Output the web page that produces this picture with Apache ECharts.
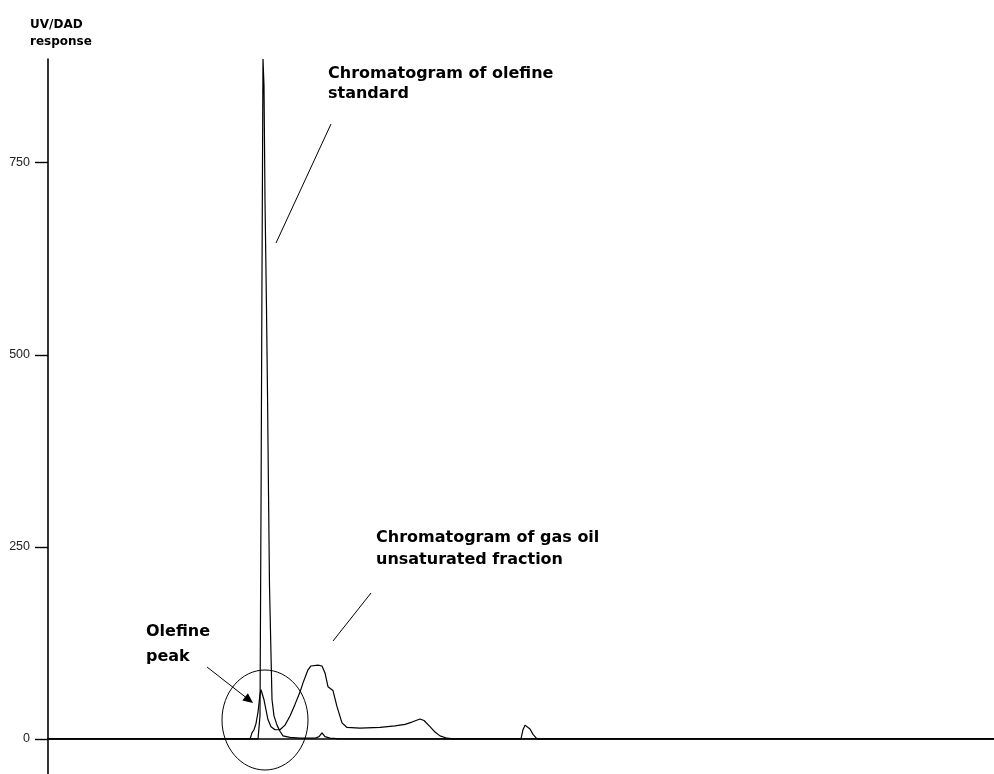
<!DOCTYPE html>
<html>
<head>
<meta charset="utf-8">
<title>UV/DAD chromatograms</title>
<script src="https://cdn.jsdelivr.net/npm/echarts@6/dist/echarts.min.js"></script>
<style>
  html, body { margin: 0; padding: 0; background: #ffffff; }
  #chart { width: 994px; height: 774px; }
</style>
</head>
<body>
<div id="chart"></div>
<script>
// Retention time (min) and UV/DAD response of the olefine standard
var standardTime = [0, 6.660, 6.723, 6.755, 6.786, 6.818, 6.850, 6.882, 6.929, 6.961, 6.993, 7.024, 7.072, 7.104, 7.167, 7.262, 7.357, 7.452, 7.674, 7.991, 8.467, 8.594, 8.689, 8.784, 8.943, 9.260, 30];
var standardResponse = [0, 0, 30, 300, 600, 885, 850, 700, 560, 450, 320, 200, 110, 51, 30, 18, 10, 4, 2, 1, 1, 3, 8, 3, 1, 0, 0];

// Retention time (min) and UV/DAD response of the gas oil unsaturated fraction
var gasOilTime = [0, 6.406, 6.469, 6.533, 6.596, 6.660, 6.723, 6.755, 6.786, 6.850, 6.913, 6.977, 7.072, 7.199, 7.357,
  7.516, 7.674, 7.833, 7.991, 8.087, 8.245, 8.340, 8.562, 8.689, 8.784, 8.879, 9.038, 9.165, 9.324, 9.482, 9.894,
  10.529, 11.004, 11.322, 11.543, 11.797, 11.924, 12.114, 12.273, 12.431, 12.653, 12.844,
  15.000, 15.063, 15.127, 15.190, 15.285, 15.381, 15.507, 30];
var gasOilResponse = [0, 0, 8, 12, 20, 35, 58, 64, 62, 51, 38, 25, 16, 12, 12,
  18, 30, 45, 61, 73, 90, 95, 96, 95, 86, 68, 63, 42, 21, 15, 14,
  15, 17, 19, 22, 26, 24, 16, 9, 4, 1, 0,
  0, 12, 18, 18, 13, 6, 0, 0];

// Labelled ticks on the response axis
var responseTicks = [0, 250, 500, 750];

function pairs(xs, ys) {
  return xs.map(function (x, i) { return [x, ys[i]]; });
}

var chart = echarts.init(document.getElementById('chart'), null, { renderer: 'canvas' });

var lineStyle = { color: '#000000', width: 1.2 };
var annotationFont = 'bold 16px "DejaVu Sans"';

chart.setOption({
  animation: false,
  backgroundColor: '#ffffff',
  grid: { left: 48, right: 0, top: 59, bottom: 0, outerBoundsMode: 'none' },
  xAxis: {
    type: 'value',
    min: 0,
    max: 30,
    axisLine: { show: true, onZero: true, lineStyle: { color: '#000000', width: 1.5 } },
    axisTick: { show: false },
    axisLabel: { show: false },
    splitLine: { show: false }
  },
  yAxis: {
    type: 'value',
    min: -45.6,
    max: 885,
    axisLine: { show: true, lineStyle: { color: '#000000', width: 1.6 } },
    axisTick: {
      show: true,
      inside: false,
      length: 13,
      customValues: responseTicks,
      lineStyle: { color: '#000000', width: 1.4 }
    },
    axisLabel: {
      show: true,
      margin: 18,
      customValues: responseTicks,
      color: '#222222',
      fontFamily: '"Liberation Sans", Arial, sans-serif',
      fontSize: 12.5
    },
    splitLine: { show: false }
  },
  series: [
    {
      name: 'Olefine standard',
      type: 'line',
      data: pairs(standardTime, standardResponse),
      showSymbol: false,
      lineStyle: lineStyle,
      z: 3
    },
    {
      name: 'Gas oil unsaturated fraction',
      type: 'line',
      data: pairs(gasOilTime, gasOilResponse),
      showSymbol: false,
      lineStyle: lineStyle,
      z: 3
    }
  ],
  graphic: [
    {
      type: 'text', left: 30, top: 16,
      style: { text: 'UV/DAD\nresponse', font: 'bold 12px "DejaVu Sans"', lineHeight: 17, fill: '#000000' }
    },
    {
      type: 'text', left: 328, top: 64,
      style: { text: 'Chromatogram of olefine\nstandard', font: annotationFont, lineHeight: 20, fill: '#000000' }
    },
    {
      type: 'line',
      shape: { x1: 331, y1: 124, x2: 276, y2: 243 },
      style: { stroke: '#000000', lineWidth: 1 }
    },
    {
      type: 'text', left: 376, top: 527,
      style: { text: 'Chromatogram of gas oil\nunsaturated fraction', font: annotationFont, lineHeight: 22, fill: '#000000' }
    },
    {
      type: 'line',
      shape: { x1: 371, y1: 593, x2: 333, y2: 641 },
      style: { stroke: '#000000', lineWidth: 1 }
    },
    {
      type: 'text', left: 146, top: 619,
      style: { text: 'Olefine\npeak', font: annotationFont, lineHeight: 25, fill: '#000000' }
    },
    {
      type: 'line',
      shape: { x1: 207, y1: 667, x2: 246, y2: 697.5 },
      style: { stroke: '#000000', lineWidth: 1 }
    },
    {
      type: 'polygon',
      shape: { points: [[253, 703], [242.3, 700.4], [247.9, 693.3]] },
      style: { fill: '#000000' }
    },
    {
      type: 'ellipse',
      shape: { cx: 265, cy: 720, rx: 43, ry: 50 },
      style: { fill: null, stroke: '#000000', lineWidth: 1 }
    }
  ]
});
</script>
</body>
</html>
